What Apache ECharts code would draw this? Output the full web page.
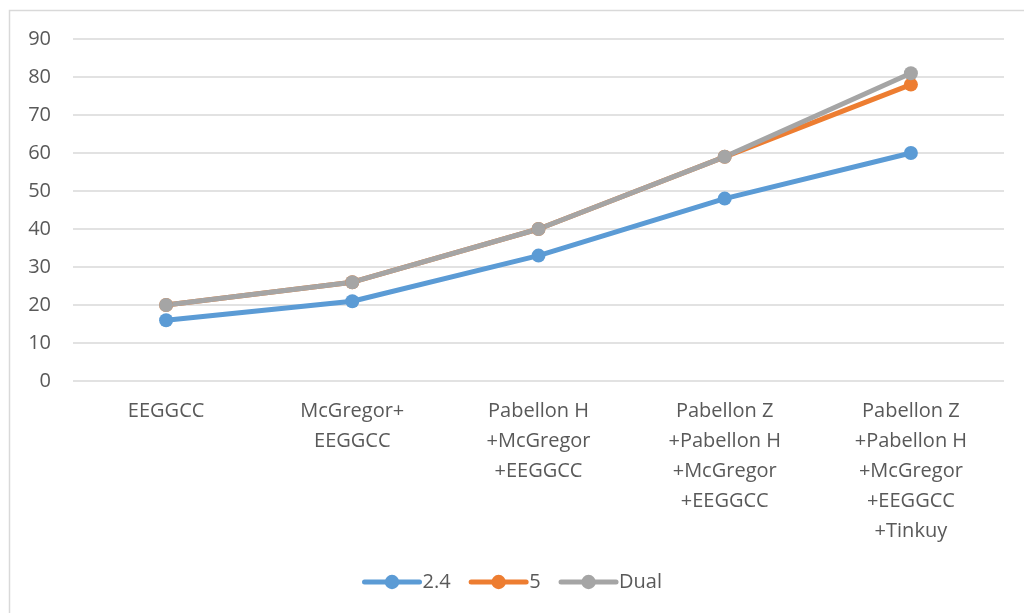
<!DOCTYPE html>
<html>
<head>
<meta charset="utf-8">
<script src="https://cdn.jsdelivr.net/npm/echarts@6/dist/echarts.min.js"></script>
<style>
  html, body { margin: 0; padding: 0; background: #fff; }
  #chart { width: 1024px; height: 613px; }
</style>
</head>
<body>
<div id="chart"></div>
<script>
// Coverage sites (cumulative) and values per band
const categories = [
  'EEGGCC',
  'McGregor+\nEEGGCC',
  'Pabellon H\n+McGregor\n+EEGGCC',
  'Pabellon Z\n+Pabellon H\n+McGregor\n+EEGGCC',
  'Pabellon Z\n+Pabellon H\n+McGregor\n+EEGGCC\n+Tinkuy'
];
const seriesNames = ['2.4', '5', 'Dual'];
const band24 = [16, 21, 33, 48, 60];
const band5 = [20, 26, 40, 59, 78];
const bandDual = [20, 26, 40, 59, 81];
const colors = ['#5b9bd5', '#ed7d31', '#a5a5a5'];

const font = '"Open Sans", Lato, sans-serif';
const textColor = '#595959';
const fontSize = 20;

function lineSeries(name, data, color) {
  return {
    name: name,
    type: 'line',
    data: data,
    symbol: 'circle',
    symbolSize: 14,
    lineStyle: { width: 5, color: color, cap: 'round' },
    itemStyle: { color: color },
    emphasis: { disabled: true }
  };
}

const chart = echarts.init(document.getElementById('chart'));
chart.setOption({
  animation: false,
  color: colors,
  textStyle: { fontFamily: font, fontSize: fontSize },
  graphic: [{
    type: 'rect',
    shape: { x: 9.5, y: 10.5, width: 1200, height: 800 },
    style: { fill: 'none', stroke: '#d9d9d9', lineWidth: 1.5 },
    silent: true,
    z: -1
  }],
  grid: { left: 73, right: 20, top: 39, bottom: 232 },
  legend: {
    top: 567,
    left: 'center',
    itemWidth: 55,
    itemHeight: 18,
    itemGap: 18,
    lineStyle: { width: 5, cap: 'round' },
    textStyle: { color: textColor, fontSize: fontSize, fontFamily: font, padding: [0, 0, 0, -2] },
    data: seriesNames
  },
  xAxis: {
    type: 'category',
    data: categories,
    boundaryGap: true,
    axisLine: { show: false },
    axisTick: { show: false },
    axisLabel: {
      color: textColor,
      fontSize: fontSize,
      fontFamily: font,
      lineHeight: 30,
      margin: 15,
      interval: 0,
      align: 'center'
    }
  },
  yAxis: {
    type: 'value',
    min: 0,
    max: 90,
    interval: 10,
    axisLine: { show: false },
    axisTick: { show: false },
    splitLine: { lineStyle: { color: '#d9d9d9', width: 1.5 } },
    axisLabel: { color: textColor, fontSize: fontSize, fontFamily: font, margin: 22 }
  },
  series: [
    lineSeries(seriesNames[0], band24, colors[0]),
    lineSeries(seriesNames[1], band5, colors[1]),
    lineSeries(seriesNames[2], bandDual, colors[2])
  ]
});
</script>
</body>
</html>
